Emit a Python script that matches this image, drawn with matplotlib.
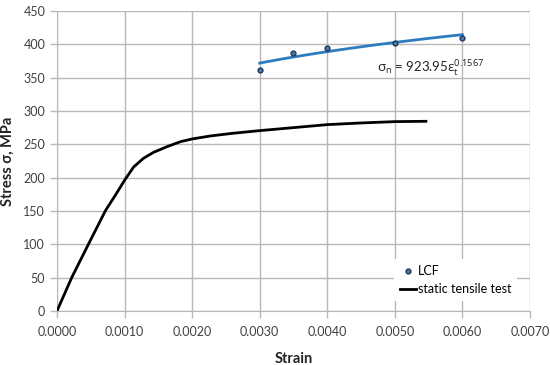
import numpy as np
import matplotlib
matplotlib.use('Agg')
import matplotlib.pyplot as plt

plt.rcParams['font.family'] = ['Lato', 'Open Sans', 'DejaVu Sans']
plt.rcParams['mathtext.fontset'] = 'custom'
plt.rcParams['mathtext.rm'] = 'Open Sans'
plt.rcParams['mathtext.it'] = 'Open Sans'

# static tensile test curve
strain_static = [0.0, 0.00022, 0.00047, 0.00072, 0.00086, 0.00100, 0.001135, 0.00128,
                 0.00143, 0.00163, 0.00183, 0.0020, 0.00227, 0.0026, 0.0030, 0.0035,
                 0.0040, 0.0045, 0.0050, 0.00546]
stress_static = [0, 50.5, 101, 151, 173, 196, 216, 229,
                 238, 246.5, 254, 258, 262.5, 266.5, 270.5, 275,
                 279.5, 282, 284, 284.5]

# LCF points
strain_lcf = [0.0030, 0.0035, 0.0040, 0.0050, 0.0060]
stress_lcf = [361.5, 387.5, 394.5, 402.5, 409.5]

# power trendline sigma = A * eps^n
fit_A = 923.95
fit_n = 0.1567
fit_range = [0.0030, 0.0060]

fig = plt.figure(figsize=(5.5, 3.65), dpi=100)
ax = fig.add_axes([0.1036, 0.148, 0.86, 0.822])

gc = '#b8b8b8'
ax.set_xlim(0, 0.007)
ax.set_ylim(0, 450)
ax.set_xticks(np.arange(0, 0.00701, 0.001))
ax.set_yticks(range(0, 451, 50))
ax.set_xticklabels(['%.4f' % v for v in ax.get_xticks()])
ax.grid(True, color=gc, linewidth=1)
for s in ['top', 'right']:
    ax.spines[s].set_visible(False)
for s in ['left', 'bottom']:
    ax.spines[s].set_color(gc)
ax.tick_params(colors=gc, labelcolor='#404040', labelsize=9, length=5, width=1)
ax.tick_params(axis='x', pad=6)

ax.plot(strain_static, stress_static, color='black', lw=2, label='static tensile test',
        zorder=3, solid_joinstyle='round')
ax.plot(strain_lcf, stress_lcf, 'o', ms=3.5, mfc='#4a7aa8', mec='#1f3a5a', mew=1,
        label='LCF', zorder=4)

xf = np.linspace(fit_range[0], fit_range[1], 50)
ax.plot(xf, fit_A * xf ** fit_n, color='#2e7cc0', lw=2, zorder=3)

ax.text(0.00473, 363, r'$\mathrm{\sigma_n}$ = 923.95$\mathrm{\varepsilon_t^{0.1567}}$',
        fontsize=9.5, color='#222222', va='center', ha='left')

ax.set_xlabel('Strain', fontsize=10.5, fontweight='bold', color='#222222', labelpad=10)
ax.set_ylabel('Stress σ, MPa', fontsize=10.5, fontweight='bold', color='#222222', labelpad=6)

handles, labels = ax.get_legend_handles_labels()
leg = ax.legend(handles[::-1], labels[::-1], loc='lower right', bbox_to_anchor=(0.985, 0.013),
                frameon=True, fancybox=False, fontsize=9, handlelength=1.3,
                handletextpad=0.1, borderpad=0.45, labelspacing=0.5)
leg.get_frame().set_edgecolor('none')
leg.get_frame().set_facecolor('white')
leg.get_frame().set_alpha(1)

fig.savefig('out.png', dpi=100)
